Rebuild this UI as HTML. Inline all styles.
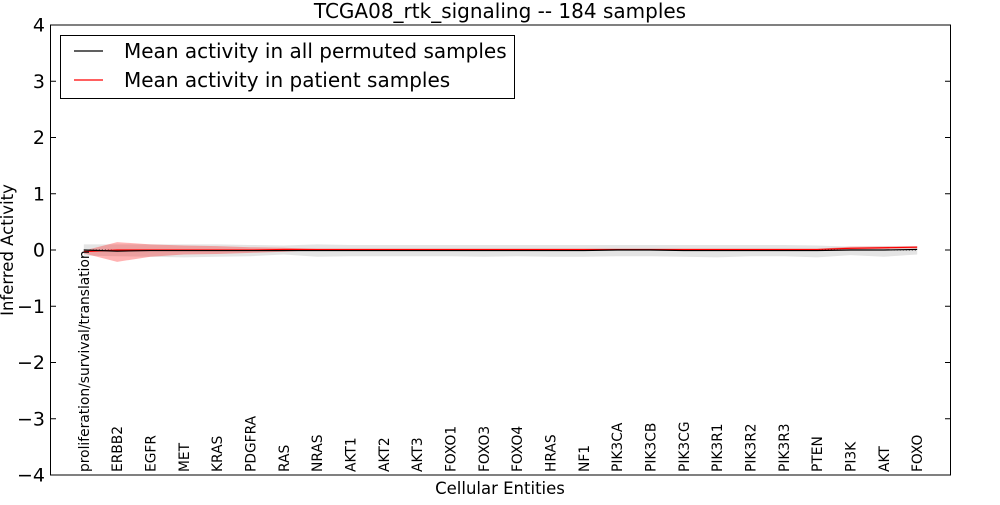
<!DOCTYPE html>
<html><head><meta charset="utf-8"><style>
body{margin:0;background:#fff;}
svg text{font-family:"DejaVu Sans","Liberation Sans",sans-serif;}
</style></head><body>
<svg id="chart" width="1000" height="500" xmlns="http://www.w3.org/2000/svg">
<rect width="1000" height="500" fill="#fff"/>
<text x="500" y="18" font-size="20" text-anchor="middle">TCGA08_rtk_signaling -- 184 samples</text>
<g id="bands"></g>
<g id="lines"></g>
<rect x="50.5" y="25" width="900" height="450" fill="none" stroke="#000" stroke-width="1"/>
<g id="yticks"></g>
<g id="xticks"></g>
<text transform="translate(13,250) rotate(-90)" font-size="16.5" text-anchor="middle">Inferred Activity</text>
<text x="500" y="494" font-size="16.5" text-anchor="middle">Cellular Entities</text>
<g>
<rect x="60.5" y="35.5" width="454" height="63" fill="#fff" stroke="#000"/>
<line x1="74" y1="51" x2="103" y2="51" stroke="#000" stroke-width="1.2"/>
<text x="124" y="58" font-size="20">Mean activity in all permuted samples</text>
<line x1="74" y1="80" x2="103" y2="80" stroke="#f00" stroke-width="1.2"/>
<text x="124" y="87" font-size="20">Mean activity in patient samples</text>
</g>
</svg>
<script>
const categories=["proliferation/survival/translation","ERBB2","EGFR","MET","KRAS","PDGFRA","RAS","NRAS","AKT1","AKT2","AKT3","FOXO1","FOXO3","FOXO4","HRAS","NF1","PIK3CA","PIK3CB","PIK3CG","PIK3R1","PIK3R2","PIK3R3","PTEN","PI3K","AKT","FOXO"];
const permMean=[0.0,-0.02,-0.01,-0.01,-0.01,-0.01,-0.01,-0.01,-0.01,-0.01,-0.01,-0.01,-0.01,-0.01,-0.01,-0.01,0.0,0.0,-0.01,-0.01,-0.01,-0.01,-0.01,0.0,0.0,0.01];
const permUpper=[0.1,0.1,0.1,0.1,0.1,0.09,0.08,0.1,0.09,0.09,0.09,0.09,0.09,0.09,0.09,0.09,0.09,0.09,0.09,0.09,0.09,0.09,0.08,0.06,0.07,0.07];
const permLower=[-0.1,-0.11,-0.12,-0.13,-0.12,-0.11,-0.08,-0.12,-0.11,-0.11,-0.11,-0.11,-0.12,-0.11,-0.12,-0.12,-0.11,-0.11,-0.12,-0.13,-0.11,-0.11,-0.13,-0.09,-0.12,-0.08];
const patMean=[-0.03,0.0,0.0,0.0,0.0,0.0,0.01,0.01,0.01,0.01,0.01,0.01,0.01,0.01,0.01,0.01,0.01,0.01,0.01,0.01,0.01,0.01,0.01,0.03,0.04,0.05];
const patUpper=[-0.01,0.14,0.1,0.08,0.07,0.05,0.04,0.02,0.02,0.02,0.02,0.02,0.02,0.02,0.02,0.02,0.02,0.02,0.02,0.02,0.02,0.02,0.02,0.06,0.06,0.07];
const patLower=[-0.06,-0.21,-0.12,-0.08,-0.07,-0.05,-0.03,0.0,0.0,0.0,0.0,0.0,0.0,0.0,0.0,0.0,0.0,0.0,0.0,0.0,0.0,0.0,0.0,0.01,0.02,0.03];
const yTicks=[-4,-3,-2,-1,0,1,2,3,4];
const NS="http://www.w3.org/2000/svg";
const X=i=>50.5+(i+1)*900/27;
const Y=v=>250-v*56.25;
function mk(tag,attrs,parent){const e=document.createElementNS(NS,tag);for(const k in attrs)e.setAttribute(k,attrs[k]);parent.appendChild(e);return e;}
function band(up,lo,fill,op,name){
  let d="M"+up.map((v,i)=>X(i)+","+Y(v)).join(" L");
  for(let i=lo.length-1;i>=0;i--)d+=" L"+X(i)+","+Y(lo[i]);
  const p=mk("path",{d:d+"Z",fill:fill,"fill-opacity":op,stroke:"none"},document.getElementById("bands"));
  
  
}
band(permUpper,permLower,"#bbb",0.4,"permuted-band");
band(patUpper,patLower,"#f00",0.3,"patient-band");
const lg=document.getElementById("lines");
const z=mk("line",{x1:X(0),x2:X(25),y1:Y(0),y2:Y(0),stroke:"#000","stroke-dasharray":"1,2","stroke-width":1},lg);


function line(arr,col,name){
  const p=mk("polyline",{points:arr.map((v,i)=>X(i)+","+Y(v)).join(" "),fill:"none",stroke:col,"stroke-width":1.2},lg);
  
  
}
line(patMean,"#f00","patient-mean-line");
line(permMean,"#000","permuted-mean-line");
const yt=document.getElementById("yticks");
yTicks.forEach(v=>{
  const l=mk("line",{x1:50.5,x2:56,y1:Y(v),y2:Y(v),stroke:"#000"},yt);
  
  
  const l2=mk("line",{x1:945,x2:950.5,y1:Y(v),y2:Y(v),stroke:"#000"},yt);
  
  
  const t=mk("text",{x:45,y:Y(v)+6.5,"font-size":19,"text-anchor":"end"},yt);
  t.textContent=(v<0?"\u2212":"")+Math.abs(v);
  
  
});
const xt=document.getElementById("xticks");
categories.forEach((c,i)=>{
  const t=mk("text",{transform:"translate("+(X(i)+5)+",472) rotate(-90)","font-size":13.8},xt);
  t.textContent=c;
  
  
});
</script>
</body></html>
